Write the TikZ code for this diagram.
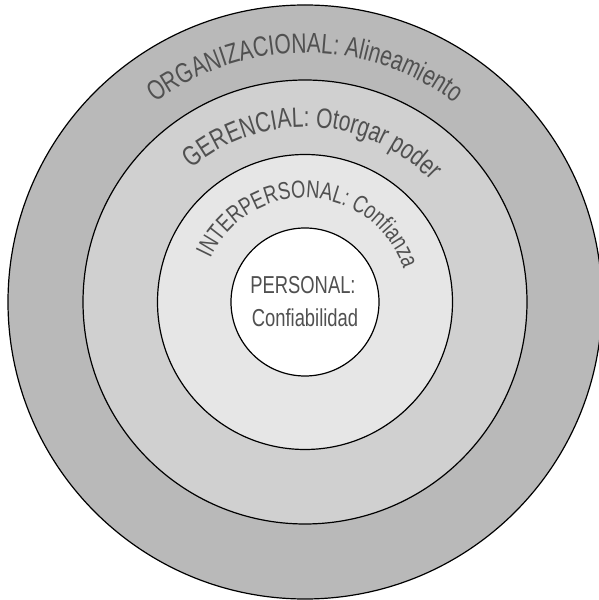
\documentclass[tikz,border=0pt]{standalone}
\usepackage{fontspec}
\newfontfamily\cf[FakeStretch=0.75]{Liberation Sans}
\usetikzlibrary{decorations.text}
\definecolor{ringA}{HTML}{B9B9B9}
\definecolor{ringB}{HTML}{D0D0D0}
\definecolor{ringC}{HTML}{E6E6E6}
\definecolor{txt}{HTML}{505050}
\begin{document}
\begin{tikzpicture}[x=1pt,y=1pt,
  ring/.style={circle, draw=black, line width=1.2pt, inner sep=0pt},
  arctext/.style={decorate, decoration={text along path, text align=center, text={#1}}},
  centertext/.style={text=txt, font=\cf\fontsize{24.5}{24.5}\selectfont, anchor=base, inner sep=0pt}]
\useasboundingbox (0,0) rectangle (598,600);
\coordinate (c) at (305,298);
\node[ring, fill=ringA, minimum size=594] (r4) at (c) {};
\node[ring, fill=ringB, minimum size=444] (r3) at (c) {};
\node[ring, fill=ringC, minimum size=295] (r2) at (c) {};
\node[ring, fill=white, minimum size=148] (r1) at (c) {};
\path[arctext={|\cf\fontsize{28}{28}\selectfont\color{txt}|ORGANIZACIONAL: Alineamiento}]
  ([shift={(180:249)}]c) arc[start angle=180, end angle=0, radius=249];
\path[arctext={|\cf\fontsize{28}{28}\selectfont\color{txt}|GERENCIAL: Otorgar poder}]
  ([shift={(177:175)}]c) arc[start angle=177, end angle=-3, radius=175];
\path[arctext={|\cf\fontsize{24.5}{24.5}\selectfont\color{txt}|INTERPERSONAL: Confianza}]
  ([shift={(177:104)}]c) arc[start angle=177, end angle=-3, radius=104];
\node[centertext] (p1) at (303,306) {PERSONAL:};
\node[centertext] (p2) at (305,273) {Confiabilidad};
\end{tikzpicture}
\end{document}
